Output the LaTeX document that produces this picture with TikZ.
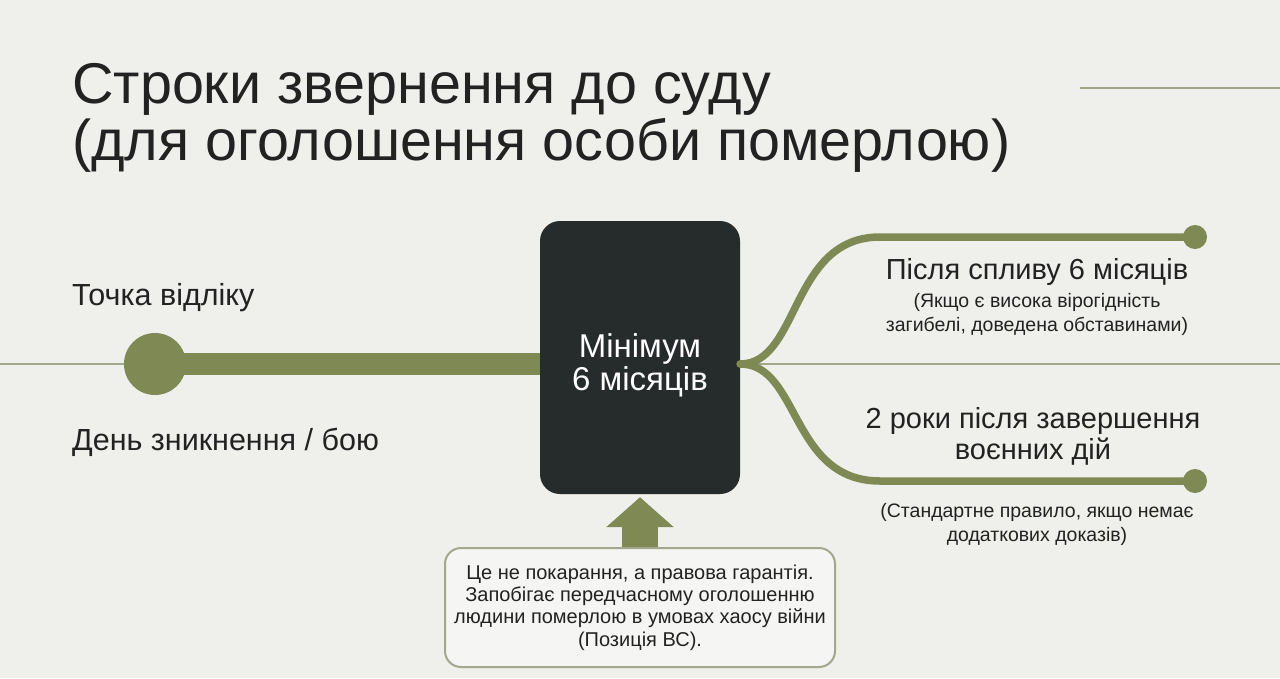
\documentclass[tikz,border=0pt]{standalone}
\usepackage{fontspec}
\setmainfont{Liberation Sans}
\usetikzlibrary{arrows.meta, positioning}
\definecolor{olive}{HTML}{7F8954}
\definecolor{paper}{HTML}{EFEFEB}
\definecolor{ink}{HTML}{222222}
\definecolor{boxdark}{HTML}{262B2B}
\definecolor{rule}{HTML}{A3A78C}

\begin{document}
\begin{tikzpicture}[x=1pt, y=-1pt, >=Stealth,
    label/.style={text=ink, inner sep=0pt},
    enddot/.style={circle, fill=olive, inner sep=0pt, minimum size=24pt},
    branch/.style={olive, line width=7.5pt, line cap=round}]
    % background and thin rules
    \fill[paper] (0,0) rectangle (1280,678);
    \useasboundingbox (0,0) rectangle (1280,678);
    \coordinate (ruleW) at (0,364);
    \coordinate (ruleE) at (1280,364);
    \coordinate (topL) at (1080,88);
    \coordinate (topR) at (1280,88);
    \draw[rule, line width=1.5pt] (ruleW) -- (ruleE);
    \draw[rule, line width=2pt] (topL) -- (topR);

    % title
    \node[label, anchor=base west, font=\fontsize{57.5}{60}\selectfont] (title1) at (72,103) {Строки звернення до суду};
    \node[label, anchor=base west, font=\fontsize{57.5}{60}\selectfont] (title2) at (72,160) {(для оголошення особи померлою)};

    % start point
    \node[circle, fill=olive, inner sep=0pt, minimum size=62pt] (start) at (155,364) {};
    \node[label, anchor=west, font=\fontsize{30.5}{33}\selectfont] (startTop) at (72,298) {Точка відліку};
    \node[label, anchor=west, font=\fontsize{30.5}{33}\selectfont] (startBot) at (72,442) {День зникнення / бою};

    % central box
    \node[fill=boxdark, rounded corners=20pt, minimum width=200pt, minimum height=273pt] (minbox) at (640,357.5) {};
    \node[text=white, align=center, inner sep=0pt, font=\fontsize{33}{33}\selectfont] (minText) at (640,365) {Мінімум\\6 місяців};
    \draw[olive, line width=22pt] (start.center) -- (minbox.west |- start);

    % branches
    \node[enddot] (upend) at (1195,237) {};
    \node[enddot] (lowend) at (1195,481) {};
    \draw[branch] (minbox.east |- start) .. controls (800,364) and (790,237) .. (880,237) -- (upend.center);
    \draw[branch] (minbox.east |- start) .. controls (800,364) and (790,481) .. (880,481) -- (lowend.center);

    \node[label, font=\fontsize{29}{31}\selectfont] (upMain) at (1037,272) {Після спливу 6 місяців};
    \node[label, align=center, font=\fontsize{19.5}{24}\selectfont] (upNote) at (1037,314)
        {(Якщо є висока вірогідність\\загибелі, доведена обставинами)};
    \node[label, align=center, font=\fontsize{29}{31}\selectfont] (lowMain) at (1033,436)
        {2 роки після завершення\\воєнних дій};
    \node[label, align=center, font=\fontsize{19.5}{24}\selectfont] (lowNote) at (1037,524)
        {(Стандартне правило, якщо немає\\додаткових доказів)};

    % note below
    \node[draw=rule, line width=2pt, fill=paper!60!white, rounded corners=16pt,
          minimum width=390pt, minimum height=119pt, inner sep=0pt, align=center, text=ink,
          font=\fontsize{20}{22.3}\selectfont] (note) at (640,607.5)
        {Це не покарання, а правова гарантія.\\Запобігає передчасному оголошенню\\людини померлою в умовах хаосу війни\\(Позиція ВС).};
    \draw[-{Triangle[width=66pt, length=30pt]}, olive, line width=36pt, shorten >=3pt]
        (note.north) -- (minbox.south);
\end{tikzpicture}
\end{document}
